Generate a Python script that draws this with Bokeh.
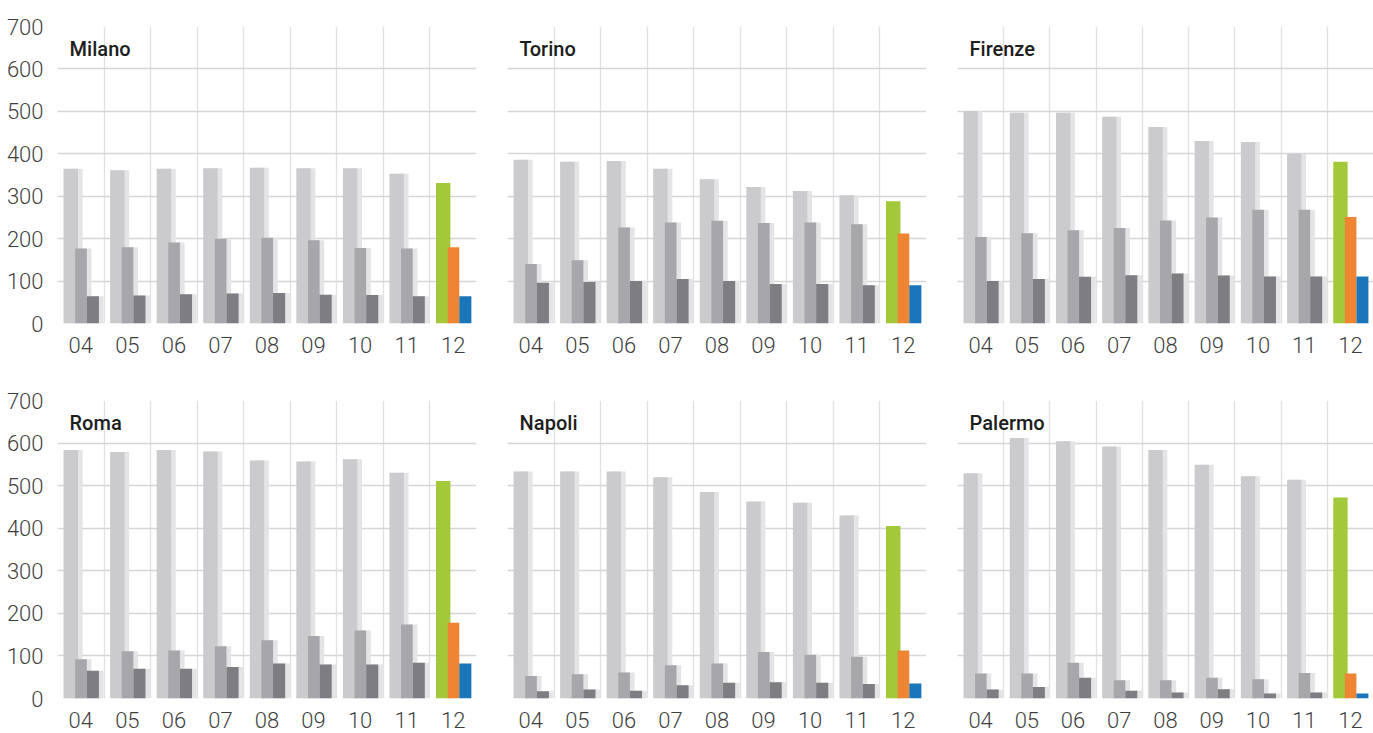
from bokeh.plotting import figure
from bokeh.models import ColumnDataSource, Range1d, FixedTicker, Grid, Label
from bokeh.layouts import row, column
from bokeh.transform import dodge
from bokeh.embed import file_html
from bokeh.resources import INLINE

# ---------------- data ----------------
years = ["04", "05", "06", "07", "08", "09", "10", "11", "12"]
y_ticks = [0, 100, 200, 300, 400, 500, 600, 700]
cities = ["Milano", "Torino", "Firenze", "Roma", "Napoli", "Palermo"]

milano_s1 = [365, 361, 365, 366, 367, 366, 366, 353, 331]
milano_s2 = [177, 180, 191, 200, 202, 196, 178, 177, 180]
milano_s3 = [64, 66, 69, 71, 72, 68, 67, 64, 64]

torino_s1 = [386, 381, 383, 365, 340, 322, 312, 302, 288]
torino_s2 = [140, 149, 226, 238, 242, 237, 238, 234, 212]
torino_s3 = [96, 98, 100, 105, 100, 93, 93, 90, 90]

firenze_s1 = [501, 497, 497, 487, 463, 430, 428, 400, 381]
firenze_s2 = [204, 213, 220, 225, 243, 250, 268, 268, 251]
firenze_s3 = [100, 105, 110, 114, 118, 113, 111, 111, 111]

roma_s1 = [584, 579, 584, 580, 559, 557, 562, 530, 511]
roma_s2 = [92, 111, 113, 123, 137, 147, 160, 174, 178]
roma_s3 = [65, 70, 70, 74, 82, 80, 80, 84, 82]

napoli_s1 = [533, 533, 533, 520, 485, 463, 460, 430, 405]
napoli_s2 = [53, 57, 61, 78, 82, 109, 103, 98, 113]
napoli_s3 = [17, 21, 18, 31, 37, 38, 37, 34, 35]

palermo_s1 = [529, 612, 604, 592, 584, 549, 522, 514, 472]
palermo_s2 = [59, 59, 84, 43, 43, 49, 45, 60, 59]
palermo_s3 = [21, 27, 49, 18, 14, 22, 12, 14, 12]

panels = [
    ("Milano", milano_s1, milano_s2, milano_s3),
    ("Torino", torino_s1, torino_s2, torino_s3),
    ("Firenze", firenze_s1, firenze_s2, firenze_s3),
    ("Roma", roma_s1, roma_s2, roma_s3),
    ("Napoli", napoli_s1, napoli_s2, napoli_s3),
    ("Palermo", palermo_s1, palermo_s2, palermo_s3),
]

# ---------------- style ----------------
GRAY = ["#cbcbce", "#a6a6ab", "#7d7d82"]
HIGHLIGHT = ["#a3c93a", "#ef8532", "#1b75b9"]
SHADOW = "#e4e4e6"
OFFSETS = [-0.215, 0.005, 0.26]
WIDTHS = [0.31, 0.25, 0.26]
LABEL_FONT = "Roboto Light"
TITLE_FONT = "Roboto Medium"

COL_BORDER = [57, 31, 31]
COL_FRAME = [419, 419, 416]
ROW_TOP = [26, 20]
ROW_FRAME = [297, 298]
ROW_BOTTOM = [57, 35]


def make_panel(name, s1, s2, s3, col, rw):
    left_axis = col == 0
    b_left = COL_BORDER[col]
    b_top = ROW_TOP[rw]
    b_bottom = ROW_BOTTOM[rw]
    p = figure(
        width=b_left + COL_FRAME[col],
        height=b_top + ROW_FRAME[rw] + b_bottom,
        x_range=Range1d(-0.5, 8.5),
        y_range=Range1d(0, 700),
        output_backend="svg",
        toolbar_location=None,
        y_axis_location="left" if left_axis else None,
        min_border_left=b_left,
        min_border_right=0,
        min_border_top=b_top,
        min_border_bottom=b_bottom,
        outline_line_color=None,
        background_fill_color="white",
        border_fill_color="white",
    )
    n = len(years)
    idx = list(range(n))
    series = [s1, s2, s3]
    for k in range(3):
        cols = [GRAY[k]] * (n - 1) + [HIGHLIGHT[k]]
        src = ColumnDataSource(dict(x=idx, top=series[k], color=cols,
                                    salpha=[1.0] * (n - 1) + [0.0]))
        # soft shadow of the grey bars
        p.vbar(x=dodge("x", OFFSETS[k] + 0.1, range=p.x_range), top="top", bottom=0,
               width=WIDTHS[k], source=src, fill_color=SHADOW, fill_alpha="salpha",
               line_color=None)
        p.vbar(x=dodge("x", OFFSETS[k], range=p.x_range), top="top", bottom=0,
               width=WIDTHS[k], source=src, fill_color="color", line_color=None)

    # x axis
    xa = p.xaxis[0]
    xa.ticker = FixedTicker(ticks=idx)
    xa.major_label_overrides = {i: years[i] for i in idx}
    xa.axis_line_color = None
    xa.major_tick_line_color = None
    xa.minor_tick_line_color = None
    xa.major_label_standoff = 7
    xa.major_label_text_font = LABEL_FONT
    xa.major_label_text_font_size = "22px"
    xa.major_label_text_color = "#3f3f3f"

    xg = p.xgrid[0]
    xg.ticker = FixedTicker(ticks=[i - 0.5 for i in range(n + 1)])
    xg.grid_line_color = "#e2e2e2"
    xg.grid_line_width = 1.4

    if left_axis:
        ya = p.yaxis[0]
        ya.ticker = FixedTicker(ticks=y_ticks)
        ya.axis_line_color = None
        ya.major_tick_line_color = None
        ya.minor_tick_line_color = None
        ya.major_label_standoff = 8
        ya.major_label_text_font = LABEL_FONT
        ya.major_label_text_font_size = "22px"
        ya.major_label_text_color = "#3f3f3f"
        yg = p.ygrid[0]
        yg.ticker = FixedTicker(ticks=y_ticks)
    else:
        yg = Grid(dimension=1, ticker=FixedTicker(ticks=y_ticks))
        p.add_layout(yg)
    yg.grid_line_color = "#d6d6d6"
    yg.grid_line_width = 1.6

    p.add_layout(Label(x=-0.24, y=646, text=name, text_font=TITLE_FONT,
                       text_font_size="20px", text_color="#1e1e1e",
                       text_baseline="middle", text_align="left"))
    return p


figs = []
for i, (name, a, b, c) in enumerate(panels):
    figs.append(make_panel(name, a, b, c, i % 3, i // 3))

layout = column(row(*figs[:3]), row(*figs[3:]))
open("out.html", "w").write(file_html(layout, INLINE))
